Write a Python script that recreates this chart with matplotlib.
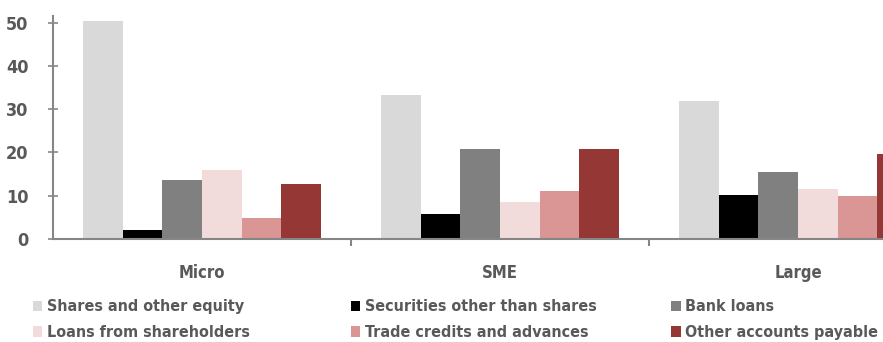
import numpy as np
import matplotlib.pyplot as plt
from matplotlib.patches import Patch

plt.rcParams['font.family'] = ['Liberation Sans Narrow', 'DejaVu Sans']
plt.rcParams['font.stretch'] = 'condensed'
plt.rcParams['font.weight'] = 'bold'

groups = ["Micro", "SME", "Large"]
series = ["Shares and other equity", "Securities other than shares", "Bank loans",
          "Loans from shareholders", "Trade credits and advances", "Other accounts payable"]
colors = ["#d9d9d9", "#000000", "#808080", "#f2dcdb", "#d99694", "#953735"]

shares = [50.3, 33.2, 32.0]
securities = [2.1, 5.7, 10.2]
bank_loans = [13.6, 20.8, 15.4]
loans_sh = [16.0, 8.5, 11.6]
trade = [4.8, 11.1, 9.9]
other = [12.7, 20.8, 19.7]
values = [shares, securities, bank_loans, loans_sh, trade, other]

fig = plt.figure(figsize=(8.83, 3.42), dpi=100)
ax = fig.add_axes([0.060, 0.301, 1.0125, 0.652])

x = np.arange(len(groups))
w = 0.8 / len(series)
for i, (vals, c) in enumerate(zip(values, colors)):
    ax.bar(x - 0.4 + w * (i + 0.5), vals, width=w, color=c, label=series[i])

ax.set_xlim(-0.5, 2.5)
ax.set_ylim(0, 51.5)
ax.set_yticks(range(0, 51, 10))

grey = "#868686"
txt = "#595959"
for s in ["top", "right"]:
    ax.spines[s].set_visible(False)
for s in ["left", "bottom"]:
    ax.spines[s].set_color(grey)
    ax.spines[s].set_linewidth(1.5)

ax.tick_params(axis="y", direction="inout", length=7, width=1.2, color=grey,
               labelsize=13, labelcolor=txt, pad=14)

ax.set_xticks(x)
ax.set_xticklabels(groups, fontsize=12, color=txt)
ax.tick_params(axis="x", which="major", length=0, pad=18)
ax.set_xticks([0.5, 1.5], minor=True)
ax.tick_params(axis="x", which="minor", direction="out", length=5, width=1.5, color=grey)

# legend: three columns of two entries each
handles = [Patch(facecolor=c) for c in colors]
col_x = [0.037, 0.397, 0.760]
for k in range(3):
    fig.legend([handles[k], handles[k + 3]], [series[k], series[k + 3]],
               loc="upper left", bbox_to_anchor=(col_x[k], 0.125), frameon=False,
               prop={"size": 11.5, "weight": "bold", "stretch": "condensed"},
               handlelength=0.6, handleheight=0.6, handletextpad=0.3,
               labelspacing=0.68, borderaxespad=0, borderpad=0,
               labelcolor=txt)

fig.savefig("out.png", dpi=100)
